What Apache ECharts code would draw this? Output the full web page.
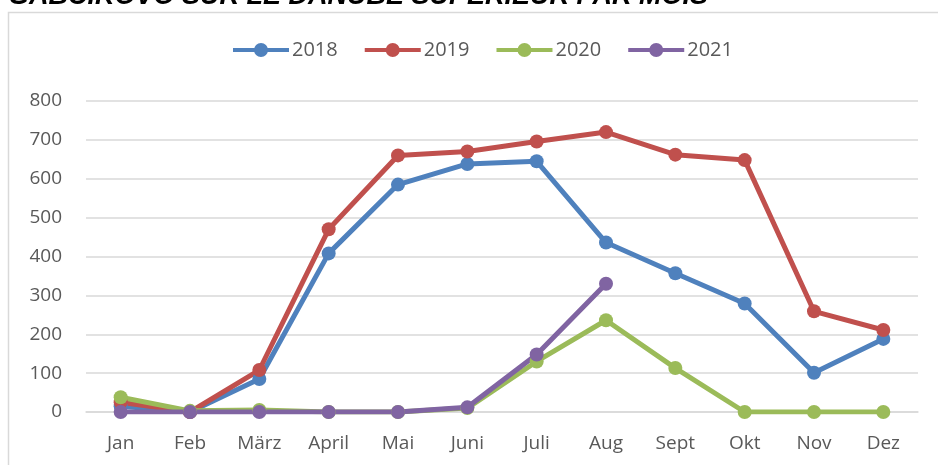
<!DOCTYPE html>
<html><head><meta charset="utf-8">
<script src="https://cdn.jsdelivr.net/npm/echarts@6/dist/echarts.min.js"></script>
<style>html,body{margin:0;padding:0;background:#fff}#c{width:938px;height:465px}</style>
</head><body><div id="c"></div>
<script>
const months = ['Jan','Feb','März','April','Mai','Juni','Juli','Aug','Sept','Okt','Nov','Dez'];
const s2018 = [15, 0, 85, 408, 585, 638, 645, 436, 357, 279, 101, 188];
const s2019 = [25, 0, 108, 470, 660, 670, 696, 720, 662, 648, 259, 211];
const s2020 = [38, 3, 5, 0, 0, 10, 130, 236, 113, 0, 0, 0];
const s2021 = [0, 0, 0, 0, 0, 12, 148, 330, null, null, null, null];
const titleText = 'GABČIKOVO SUR LE DANUBE SUPÉRIEUR PAR MOIS';

const chart = echarts.init(document.getElementById('c'), null, {renderer:'canvas'});
const font = 'Liberation Sans, Arial, sans-serif';
const legendIcon = 'path://M0,5 L56,5 L56,9 L0,9 Z M21,7 A7,7 0 1,1 35,7 A7,7 0 1,1 21,7 Z';
function mk(name, data, color){
  return {name, type:'line', data, color, symbol:'circle', symbolSize:14,
    lineStyle:{width:5, color}, itemStyle:{color}, connectNulls:false, z:2};
}
chart.setOption({
  animation:false,
  graphic:[
    {type:'rect', shape:{x:8.5,y:12.5,width:1000,height:500}, style:{fill:null, stroke:'#d9d9d9', lineWidth:1.5}, z:-1},
    {type:'text', x:8, y:10, style:{text:titleText, font:'italic bold 27px '+font, fill:'#000', textVerticalAlign:'bottom'}}
  ],
  legend:{top:35, left:228, itemWidth:56, itemHeight:14, itemGap:27,
    icon: legendIcon,
    textStyle:{fontFamily:'Open Sans, sans-serif', fontSize:20, color:'#595959', padding:[0,0,0,-2]},
    data:['2018','2019','2020','2021']},
  grid:{left:86, right:20, top:101, bottom:53, containLabel:false},
  xAxis:{type:'category', data:months, boundaryGap:true,
    axisLine:{show:true, lineStyle:{color:'#d9d9d9', width:1.5}},
    axisTick:{show:false},
    axisLabel:{fontFamily:'Open Sans, sans-serif', fontSize:19, color:'#595959', margin:22}},
  yAxis:{type:'value', min:0, max:800, interval:100,
    axisLine:{show:false}, axisTick:{show:false},
    splitLine:{lineStyle:{color:'#d9d9d9', width:1.5}},
    axisLabel:{fontFamily:'Open Sans, sans-serif', fontSize:19, color:'#595959', margin:24}},
  series:[mk('2018', s2018, '#4f81bd'), mk('2019', s2019, '#c0504d'), mk('2020', s2020, '#9bbb59'), mk('2021', s2021, '#8064a2')]
});
</script></body></html>
